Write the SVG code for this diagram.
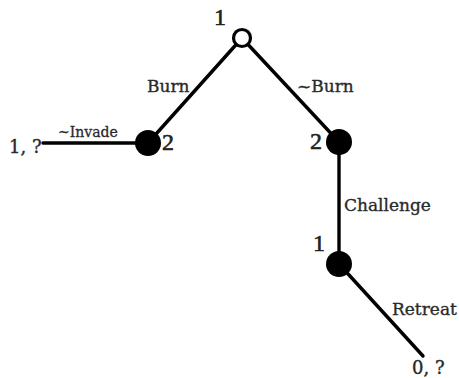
<svg xmlns="http://www.w3.org/2000/svg" width="459" height="378" viewBox="0 0 459 378">
<style>
.edge{stroke:#000;stroke-width:3.4;fill:none;stroke-linecap:round}
text{stroke-linejoin:round}
.lbl{font-family:"DejaVu Serif","Liberation Serif",serif;font-size:17px;fill:#2a2a2a;stroke:#2a2a2a;stroke-width:0.35}
.small{font-family:"DejaVu Serif","Liberation Serif",serif;font-size:14px;fill:#2a2a2a;stroke:#2a2a2a;stroke-width:0.3}
.pay{font-family:"DejaVu Serif","Liberation Serif",serif;font-size:18px;fill:#2a2a2a;stroke:#2a2a2a;stroke-width:0.4}
.player{font-family:"Liberation Serif","DejaVu Serif",serif;font-size:24px;fill:#222;stroke:#222;stroke-width:0.6}
.dec{fill:#000}
</style>
<rect width="459" height="378" fill="#fff"/>
<g id="connectors">
<line class="edge" x1="242" y1="38" x2="148" y2="143"/>
<line class="edge" x1="242" y1="38" x2="339" y2="142"/>
<line class="edge" x1="43" y1="143" x2="148" y2="143"/>
<line class="edge" x1="339" y1="142" x2="339" y2="264"/>
<line class="edge" x1="339" y1="264" x2="423" y2="356"/>
<text class="lbl" x="147" y="92">Burn</text>
<text class="lbl" x="297" y="92">~Burn</text>
<text class="small" x="58" y="137">~Invade</text>
<text class="lbl" x="344" y="211">Challenge</text>
<text class="lbl" x="392" y="315">Retreat</text>
</g>
<g id="root">
<circle cx="242" cy="38" r="8.5" fill="#fff" stroke="#000" stroke-width="3.2"/>
<text class="player" x="226" y="25" text-anchor="end">1</text>
</g>
<g id="burn-node">
<circle class="dec" cx="148" cy="143" r="13"/>
<text class="player" x="162" y="150">2</text>
</g>
<g id="noburn-node">
<circle class="dec" cx="339" cy="142" r="13"/>
<text class="player" x="322" y="149" text-anchor="end">2</text>
</g>
<g id="challenge-node">
<circle class="dec" cx="339" cy="264" r="13"/>
<text class="player" x="325" y="251" text-anchor="end">1</text>
</g>
<g id="payoff-invade">
<text class="pay" x="9" y="153">1, ?</text>
</g>
<g id="payoff-retreat">
<text class="pay" x="412" y="374">0, ?</text>
</g>
</svg>
